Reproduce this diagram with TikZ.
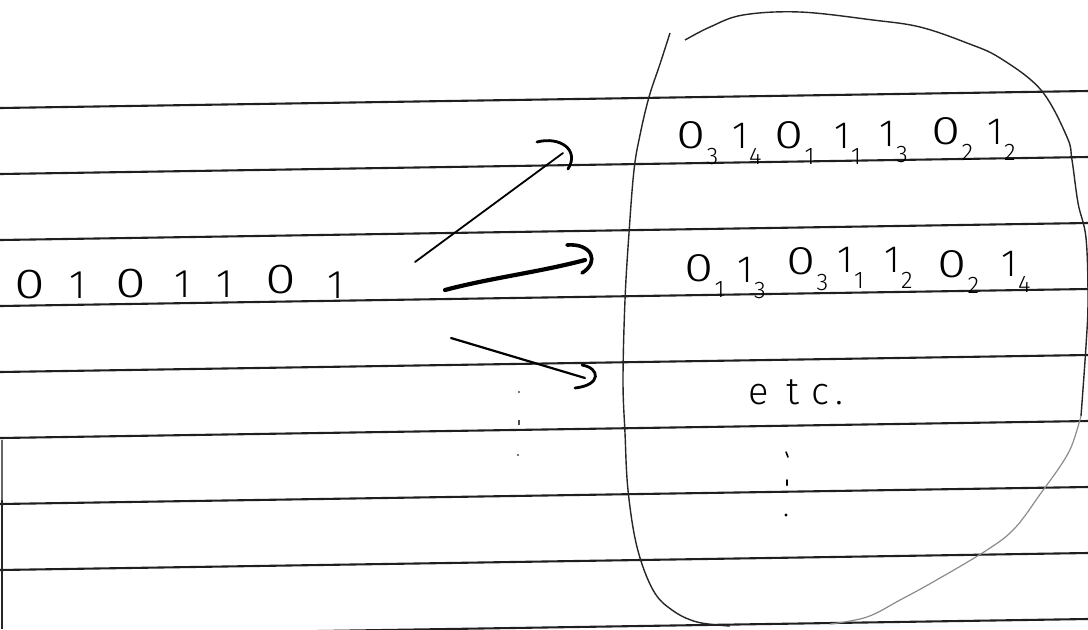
\documentclass[tikz,border=0pt]{standalone}
\usepackage{fontspec}
\setmainfont{Fira Sans}[UprightFont={* Light}]
\newcommand{\subtok}[1]{\kern0.5pt\raisebox{-8pt}{\fontsize{12}{12}\selectfont #1}}
\newcommand{\zr}{\scalebox{1.4}[1.05]{0}}
\tikzset{
  rule/.style={line width=1.05pt, draw=black!88},
  ink/.style={line width=0.9pt, line cap=round, line join=round},
  inkthick/.style={line width=2.1pt, line cap=round},
  hookline/.style={line width=1.4pt, line cap=round},
  loopline/.style={line width=0.7pt, draw=black!85},
  faintline/.style={line width=0.6pt, draw=black!45},
  lft/.style={font=\fontsize{20}{20}\selectfont, inner sep=0pt, anchor=base},
  tok/.style={font=\fontsize{19}{19}\selectfont, inner sep=0pt, anchor=base west},
  etcstyle/.style={font=\fontsize{19}{19}\selectfont, inner sep=0pt, anchor=base west}
}
\begin{document}
\begin{tikzpicture}[x=0.5pt,y=-0.5pt]
\useasboundingbox (0,0) rectangle (1088,629);
\clip (0,0) rectangle (1088,629);
\fill[white] (0,0) rectangle (1088,629);

% ruled lines
\foreach \yy in {108,174,240,306,372,438,504,570,636}
  \draw[rule] (0,\yy) -- (1088,\yy-17);
\draw[line width=1pt, draw=black!60] (2,440) -- (2,500);
\draw[line width=1.1pt, draw=black!85] (2,500) -- (2,629);

% left bit string
\node[lft] (b1) at (30,298) {\zr};
\node[lft] (b2) at (78,298) {1};
\node[lft] (b3) at (131,297) {\zr};
\node[lft] (b4) at (183,297) {1};
\node[lft] (b5) at (225,297) {1};
\node[lft] (b6) at (281,293) {\zr};
\node[lft] (b7) at (336,298) {1};

% row 1
\node[tok] (r1a) at (676,148) {\zr\subtok{3}};
\node[tok] (r1b) at (732,148) {1\subtok{4}};
\node[tok] (r1c) at (774,148) {\zr\subtok{1}};
\node[tok] (r1d) at (834,148) {1\subtok{1}};
\node[tok] (r1e) at (879,146) {1\subtok{3}};
\node[tok] (r1f) at (931,144) {\zr\subtok{2}};
\node[tok] (r1g) at (987,144) {1\subtok{2}};

% row 2
\node[tok] (r2a) at (684,281) {\zr\subtok{1}};
\node[tok] (r2b) at (737,282) {1\subtok{3}};
\node[tok] (r2c) at (786,274) {\zr\subtok{3}};
\node[tok] (r2d) at (837,272) {1\subtok{1}};
\node[tok] (r2e) at (884,272) {1\subtok{2}};
\node[tok] (r2f) at (937,277) {\zr\subtok{2}};
\node[tok] (r2g) at (1001,276) {1\subtok{4}};

% etc.
\node[etcstyle] (etc) at (748,404) {e\hspace{9pt}t\hspace{6pt}c\hspace{3pt}.};

% vertical dots under etc.
\draw[ink, line width=0.8pt] (786,452) -- (788,457);
\draw[ink, line width=1pt] (787,480) -- (787,485);
\fill (786,515) circle (1.6);

% vertical dots under arrows (faint)
\fill[black!70] (519,392) circle (1.1);
\draw[line width=0.8pt, black!70] (519,420) -- (519,425);
\fill[black!70] (518,455) circle (1.2);

% arrows
\coordinate (a1s) at (415,262);
\coordinate (a1e) at (563,153);
\coordinate (a2s) at (445,290);
\coordinate (a2e) at (585,260);
\coordinate (a3s) at (451,338);
\coordinate (a3e) at (585,378);

\draw[ink] (a1s) -- (a1e);
\draw[hookline] ([shift={(-26,-11)}]a1e) .. controls ([shift={(-3,-17)}]a1e) and ([shift={(17,-3)}]a1e) .. ([shift={(5,16)}]a1e);

\draw[inkthick] (a2s) .. controls (490,278) and (540,272) .. (a2e);
\draw[hookline, line width=1.8pt] ([shift={(-18,-15)}]a2e) .. controls ([shift={(7,-17)}]a2e) and ([shift={(15,2)}]a2e) .. ([shift={(-3,13)}]a2e);

\draw[ink, line width=1.1pt] (a3s) -- (a3e);
\draw[hookline] ([shift={(-3,-13)}]a3e) .. controls ([shift={(15,-10)}]a3e) and ([shift={(17,7)}]a3e) .. ([shift={(-10,10)}]a3e);

% big enclosing loop
\draw[loopline] plot[smooth, tension=0.6] coordinates {
  (670,33) (660,64) (649,97) (640,135) (634,170) (629,233) (625,300)
  (623,380) (625,433) (628,490) (637,547) (653,590) (672,610) (697,622) (730,626)};
\draw[loopline] plot[smooth, tension=0.6] coordinates {
  (685,40) (710,27) (743,15) (800,12) (873,20) (920,27) (967,43)
  (1000,58) (1041,90) (1067,137) (1072,160) (1078,203) (1086,238)
  (1088,300) (1086,346) (1081,416)};
\draw[faintline] plot[smooth, tension=0.6] coordinates {
  (1081,416) (1072,445) (1061,465) (1041,493) (1015,528) (987,550)
  (933,582) (900,600) (867,617) (830,624)};
\end{tikzpicture}
\end{document}
